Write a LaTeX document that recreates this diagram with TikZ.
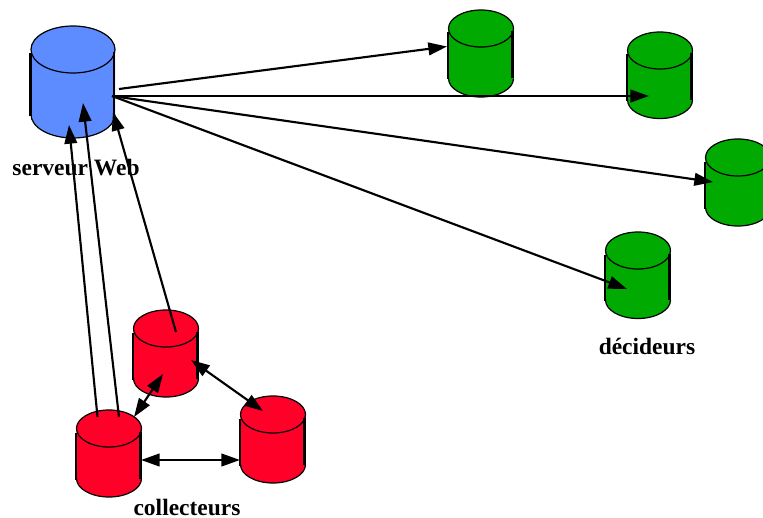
\documentclass[tikz,border=0pt]{standalone}
\usepackage{fontspec}
\setmainfont{Liberation Serif}
\usetikzlibrary{arrows.meta}
\definecolor{webblue}{RGB}{92,140,255}
\definecolor{dbgreen}{RGB}{0,170,0}
\definecolor{dbred}{RGB}{255,0,40}
\tikzset{
  x=0.75pt,y=-0.75pt,
  link/.style={line width=1.6pt,-{Triangle[length=14pt,width=9.5pt]}},
  dlink/.style={line width=1.6pt,{Triangle[length=14pt,width=9.5pt]}-{Triangle[length=14pt,width=9.5pt]}},
  caption/.style={font=\bfseries\fontsize{17.6pt}{18pt}\selectfont,anchor=base,inner sep=0pt},
  pics/cyl/.style n args={4}{code={
    % #1 fill, #2 half width, #3 half height of the ellipse, #4 height of the body
    \fill[#1] (-#2,0) arc[start angle=180,end angle=360,x radius=#2,y radius=#3]
       -- (#2,#4) arc[start angle=0,end angle=180,x radius=#2,y radius=#3] -- cycle;
    \draw[line width=0.9pt] (-#2,#4) arc[start angle=180,end angle=0,x radius=#2,y radius=#3];
    \draw[line width=0.9pt] (0,0) ellipse[x radius=#2,y radius=#3];
    \draw[line width=1.8pt] (-#2-0.5,4) -- (-#2-0.5,#4+1);
    \draw[line width=1.8pt] (#2-1,3) -- (#2-1,#4);
  }}
}
\begin{document}
\begin{tikzpicture}
\clip (0,0) rectangle (763,517);
\fill[white] (0,0) rectangle (763,517);
% cylinders
\pic at (73,49.5) {cyl={webblue}{42}{23.5}{65}};
\pic at (481,28.5) {cyl={dbgreen}{32.5}{18.5}{50}};
\pic at (660,50.5) {cyl={dbgreen}{32.5}{18.5}{49.5}};
\pic at (738,157.5) {cyl={dbgreen}{32.5}{18.5}{50}};
\pic at (638,250.5) {cyl={dbgreen}{32.5}{18.5}{49.5}};
\pic at (166,328.5) {cyl={dbred}{32.5}{18.5}{50}};
\pic at (273,414.5) {cyl={dbred}{32.5}{18.5}{50}};
\pic at (109,428.5) {cyl={dbred}{32.5}{18.5}{50}};
% connector ends
\coordinate (sOut1) at (119,89);
\coordinate (sOut) at (112,96);
\coordinate (d1) at (447,46.5);
\coordinate (d2) at (649,96);
\coordinate (d3) at (713,182);
\coordinate (d4) at (627,289);
\coordinate (sIn1) at (69,125);
\coordinate (sIn2) at (83,103);
\coordinate (sIn3) at (113,112);
\coordinate (cA1) at (97.5,417);
\coordinate (cA2) at (119,417);
\coordinate (cB) at (176,332);
\coordinate (cA3) at (134,417);
\coordinate (cB1) at (163,374);
\coordinate (cB2) at (191,360);
\coordinate (cC1) at (263,411);
\coordinate (cA4) at (141,460);
\coordinate (cC2) at (240,460);
% connectors
\draw[link] (sOut1) -- (d1);
\draw[link] (sOut) -- (d2);
\draw[link] (sOut) -- (d3);
\draw[link] (sOut) -- (d4);
\draw[link] (cA1) -- (sIn1);
\draw[link] (cA2) -- (sIn2);
\draw[link] (cB) -- (sIn3);
\draw[dlink] (cA3) -- (cB1);
\draw[dlink] (cB2) -- (cC1);
\draw[dlink] (cA4) -- (cC2);
% captions
\node[caption] (web) at (76,175) {serveur Web};
\node[caption] (dec) at (647,354) {décideurs};
\node[caption] (col) at (187,515.5) {collecteurs};
\end{tikzpicture}
\end{document}
